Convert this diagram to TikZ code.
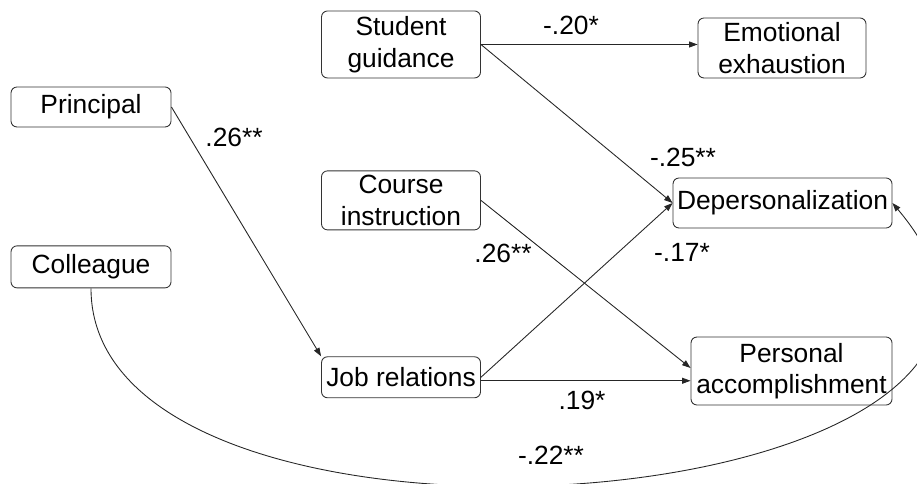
\documentclass[tikz,border=0pt]{standalone}
\usepackage{fontspec}
\setmainfont{Liberation Sans}
\usetikzlibrary{positioning, arrows.meta}

\begin{document}
\begin{tikzpicture}[
    factor/.style={
        draw=black!80,
        line width=0.5pt,
        rounded corners=0.12cm,
        align=center,
        inner sep=1pt,
        font=\fontsize{15}{18}\selectfont
    },
    path/.style={
        -{Triangle[length=1.7mm, width=1.2mm]},
        line width=0.5pt,
        black!85
    },
    coef/.style={
        font=\fontsize{15}{18}\selectfont
    }
]
    \useasboundingbox (0,0) rectangle (18.34,-9.68);

    % Predictors
    \node[factor, minimum width=3.2cm, minimum height=0.8cm] (principal) at (1.82,-2.14) {Principal};
    \node[factor, minimum width=3.2cm, minimum height=0.84cm, below=2.36cm of principal] (colleague) {Colleague};

    % Mediating factors
    \node[factor, minimum width=3.18cm, minimum height=1.34cm] (guidance) at (8.02,-0.89) {Student\\guidance};
    \node[factor, minimum width=3.18cm, minimum height=1.18cm, below=1.84cm of guidance] (instruction) {Course\\instruction};
    \node[factor, minimum width=3.18cm, minimum height=0.82cm, below=2.52cm of instruction] (jobrel) {Job relations};

    % Burnout
    \node[factor, minimum width=3.36cm, minimum height=1.2cm] (exhaustion) at (15.64,-0.96) {Emotional\\exhaustion};
    \node[factor, minimum width=4.38cm, minimum height=1.0cm] (depers) at (15.65,-4.06) {Depersonalization};
    \node[factor, minimum width=4.02cm, minimum height=1.36cm] (accompl) at (15.83,-7.42) {Personal\\accomplishment};

    % Paths
    \draw[path] (principal.east) -- (jobrel.north west);
    \draw[path] (guidance.east) -- (guidance.east -| exhaustion.west);
    \draw[path] (guidance.east) -- (depers.west);
    \draw[path] (instruction.east) -- ([yshift=0.06cm]accompl.west);
    \draw[path] (jobrel.east) -- (depers.west);
    \draw[path] ([yshift=-0.07cm]jobrel.east) -- ([yshift=-0.07cm]jobrel.east -| accompl.west);
    \draw[path] (colleague.south) .. controls +(0,-6.26) and +(5.36,-6.34) .. (depers.east);

    % Coefficients
    \node[coef] (c1) at (4.68,-2.74) {.26**};
    \node[coef] (c2) at (11.42,-0.50) {-.20*};
    \node[coef] (c3) at (13.66,-3.14) {-.25**};
    \node[coef] (c4) at (10.06,-5.06) {.26**};
    \node[coef] (c5) at (13.64,-5.04) {-.17*};
    \node[coef] (c6) at (11.64,-8.00) {.19*};
    \node[coef] (c7) at (11.02,-9.10) {-.22**};

\end{tikzpicture}
\end{document}
